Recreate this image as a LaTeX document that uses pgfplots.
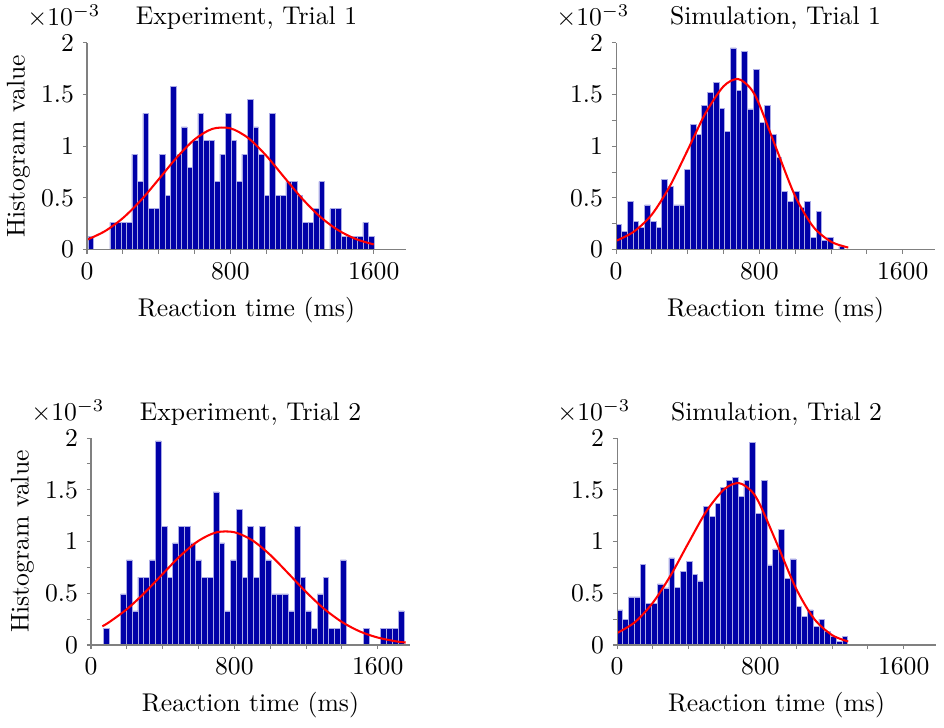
\documentclass[border=0pt]{standalone}
\usepackage{pgfplots}
\pgfplotsset{compat=1.18}
\definecolor{barblue}{RGB}{0,0,168}
\definecolor{baredge}{RGB}{170,170,230}
\tikzset{sclab/.style={anchor=base, inner sep=0pt, xshift=-9pt, yshift=6.8pt}}
\pgfplotsset{
  hist/.style={
    width=124.4pt, height=80.7pt, scale only axis,
    xmin=0, xmax=1780, ymin=0, ymax=2,
    clip mode=individual,
    axis lines=left, axis line style={gray, -},
    tick align=outside, tick style={gray, line width=0.4pt},
    major tick length=1.6pt, minor tick length=1.6pt,
    xtick={0,800,1600}, minor x tick num=3,
    ytick={0,0.5,1,1.5,2},
    /pgf/number format/1000 sep={},
    xlabel={Reaction time (ms)},
    xlabel style={at={(axis description cs:0.5,0)}, anchor=center, yshift=-23.5pt},
    ylabel style={at={(axis description cs:-0.215,0.5)}, anchor=center},
    title style={yshift=-4.5pt},
    axis on top,
  },
  bars/.style={ybar interval, fill=barblue, draw=baredge, line width=0.3pt},
  fit/.style={red, line width=0.8pt, smooth},
}
\begin{document}
\begin{tikzpicture}
\path[use as bounding box] (0,0) rectangle (368.16pt,283.53pt);

% Experiment, Trial 1
\begin{axis}[hist, at={(33.93pt,186.15pt)}, anchor=south west,
  title={Experiment, Trial 1}, ylabel={Histogram value}]
\addplot[bars] coordinates {
(5,0.132) (35.7,0) (66.4,0) (97.1,0) (127.8,0.264) (158.5,0.264) (189.2,0.264) (219.9,0.264)
(250.6,0.923) (281.3,0.659) (312,1.318) (342.7,0.395) (373.4,0.395) (404.1,0.923) (434.8,0.527)
(465.5,1.582) (496.2,0.923) (526.9,1.186) (557.6,0.791) (588.3,1.054) (619,1.318) (649.7,1.054)
(680.4,1.054) (711.1,0.659) (741.8,0.923) (772.5,1.318) (803.2,1.054) (833.9,0.659) (864.6,0.923)
(895.3,1.450) (926,1.186) (956.7,0.923) (987.4,0.527) (1018.1,1.318) (1048.8,0.527) (1079.5,0.527)
(1110.2,0.659) (1140.9,0.659) (1171.6,0.527) (1202.3,0.264) (1233,0.264) (1263.7,0.395) (1294.4,0.659)
(1325.1,0) (1355.8,0.395) (1386.5,0.395) (1417.2,0.132) (1447.9,0.132) (1478.6,0.132) (1509.3,0.132)
(1540,0.264) (1570.7,0.132) (1601.4,0)
};
\addplot[fit] coordinates {
(0,0.096) (100,0.179) (200,0.305) (300,0.476) (400,0.680) (500,0.889) (600,1.065) (700,1.168)
(800,1.173) (900,1.079) (1000,0.909) (1100,0.701) (1200,0.495) (1300,0.320) (1400,0.190)
(1500,0.103) (1600,0.051)
};
\node[sclab] at (rel axis cs:0,1) {$\times10^{-3}$};
\end{axis}

% Simulation, Trial 1
\begin{axis}[hist, at={(240.24pt,186.15pt)}, anchor=south west,
  title={Simulation, Trial 1}, minor y tick num=1]
\addplot[bars] coordinates {
(0,0.245) (31.9,0.18) (63.8,0.464) (95.7,0.277) (127.6,0.213) (159.5,0.432) (191.4,0.277)
(223.3,0.213) (255.2,0.68) (287.1,0.615) (319,0.432) (350.9,0.432) (382.8,0.773) (414.7,1.208)
(446.6,1.114) (478.5,1.394) (510.4,1.52) (542.3,1.617) (574.2,1.362) (606.1,1.147) (638,1.95)
(669.9,1.54) (701.8,1.92) (733.7,1.36) (765.6,1.74) (797.5,1.23) (829.4,1.39) (861.3,1.11)
(893.2,0.89) (925.1,0.56) (957,0.47) (988.9,0.56) (1020.8,0.41) (1052.7,0.47) (1084.6,0.12)
(1116.5,0.37) (1148.4,0.087) (1180.3,0.12) (1212.2,0) (1244.1,0.032) (1276,0)
};
\addplot[fit] coordinates {
(0,0.085) (100,0.175) (200,0.340) (300,0.613) (400,0.963) (500,1.321) (600,1.579) (680,1.65)
(750,1.561) (800,1.402) (900,0.953) (1000,0.517) (1100,0.223) (1200,0.077) (1296,0.021)
};
\node[sclab] at (rel axis cs:0,1) {$\times10^{-3}$};
\end{axis}

% Experiment, Trial 2
\begin{axis}[hist, at={(35.49pt,31.98pt)}, anchor=south west,
  title={Experiment, Trial 2}, ylabel={Histogram value}, minor y tick num=1]
\addplot[bars] coordinates {
(68.6,0.164) (100.87,0) (133.14,0) (165.41,0.493) (197.68,0.822) (229.95,0.329) (262.22,0.657)
(294.49,0.657) (326.76,0.822) (359.03,1.972) (391.3,1.150) (423.57,0.657) (455.84,0.986)
(488.11,1.150) (520.38,1.150) (552.65,0.986) (584.92,0.822) (617.19,0.657) (649.46,0.657)
(681.73,1.479) (714.0,0.986) (746.27,0.329) (778.54,0.822) (810.81,1.314) (843.08,0.657)
(875.35,1.150) (907.62,0.657) (939.89,1.150) (972.16,0.822) (1004.43,0.493) (1036.7,0.493)
(1068.97,0.493) (1101.24,0.329) (1133.51,1.150) (1165.78,0.657) (1198.05,0.329) (1230.32,0.164)
(1262.59,0.493) (1294.86,0.657) (1327.13,0.164) (1359.4,0.164) (1391.67,0.822) (1423.94,0)
(1456.21,0) (1488.48,0) (1520.75,0.164) (1553.02,0) (1585.29,0) (1617.56,0.164) (1649.83,0.164)
(1682.1,0.164) (1714.37,0.329) (1746.64,0)
};
\addplot[fit] coordinates {
(63,0.181) (100,0.219) (200,0.346) (300,0.506) (400,0.687) (500,0.864) (600,1.007) (700,1.089)
(800,1.090) (900,1.012) (1000,0.871) (1100,0.694) (1200,0.513) (1300,0.351) (1400,0.223)
(1500,0.131) (1600,0.072) (1700,0.036) (1756,0.024)
};
\node[sclab] at (rel axis cs:0,1) {$\times10^{-3}$};
\end{axis}

% Simulation, Trial 2
\begin{axis}[hist, at={(240.63pt,31.98pt)}, anchor=south west,
  title={Simulation, Trial 2}, minor y tick num=1]
\addplot[bars] coordinates {
(0,0.339) (32.2,0.248) (64.4,0.465) (96.6,0.465) (128.8,0.777) (161,0.403) (193.2,0.403)
(225.4,0.59) (257.6,0.552) (289.8,0.842) (322,0.558) (354.2,0.713) (386.4,0.806) (418.6,0.684)
(450.8,0.619) (483,1.339) (515.2,1.242) (547.4,1.368) (579.6,1.526) (611.8,1.587) (644,1.62)
(676.2,1.435) (708.4,1.587) (740.6,1.958) (772.8,1.274) (805,1.587) (837.2,0.774) (869.4,0.929)
(901.6,1.12) (933.8,0.645) (966,0.832) (998.2,0.371) (1030.4,0.274) (1062.6,0.339) (1094.8,0.177)
(1127,0.248) (1159.2,0.129) (1191.4,0.087) (1223.6,0.032) (1255.8,0.087) (1288,0)
};
\addplot[fit] coordinates {
(0,0.115) (100,0.221) (200,0.409) (300,0.675) (400,0.991) (500,1.296) (600,1.508) (680,1.565)
(750,1.488) (800,1.349) (900,0.949) (1000,0.543) (1100,0.253) (1200,0.096) (1290,0.034)
};
\node[sclab] at (rel axis cs:0,1) {$\times10^{-3}$};
\end{axis}
\end{tikzpicture}
\end{document}
